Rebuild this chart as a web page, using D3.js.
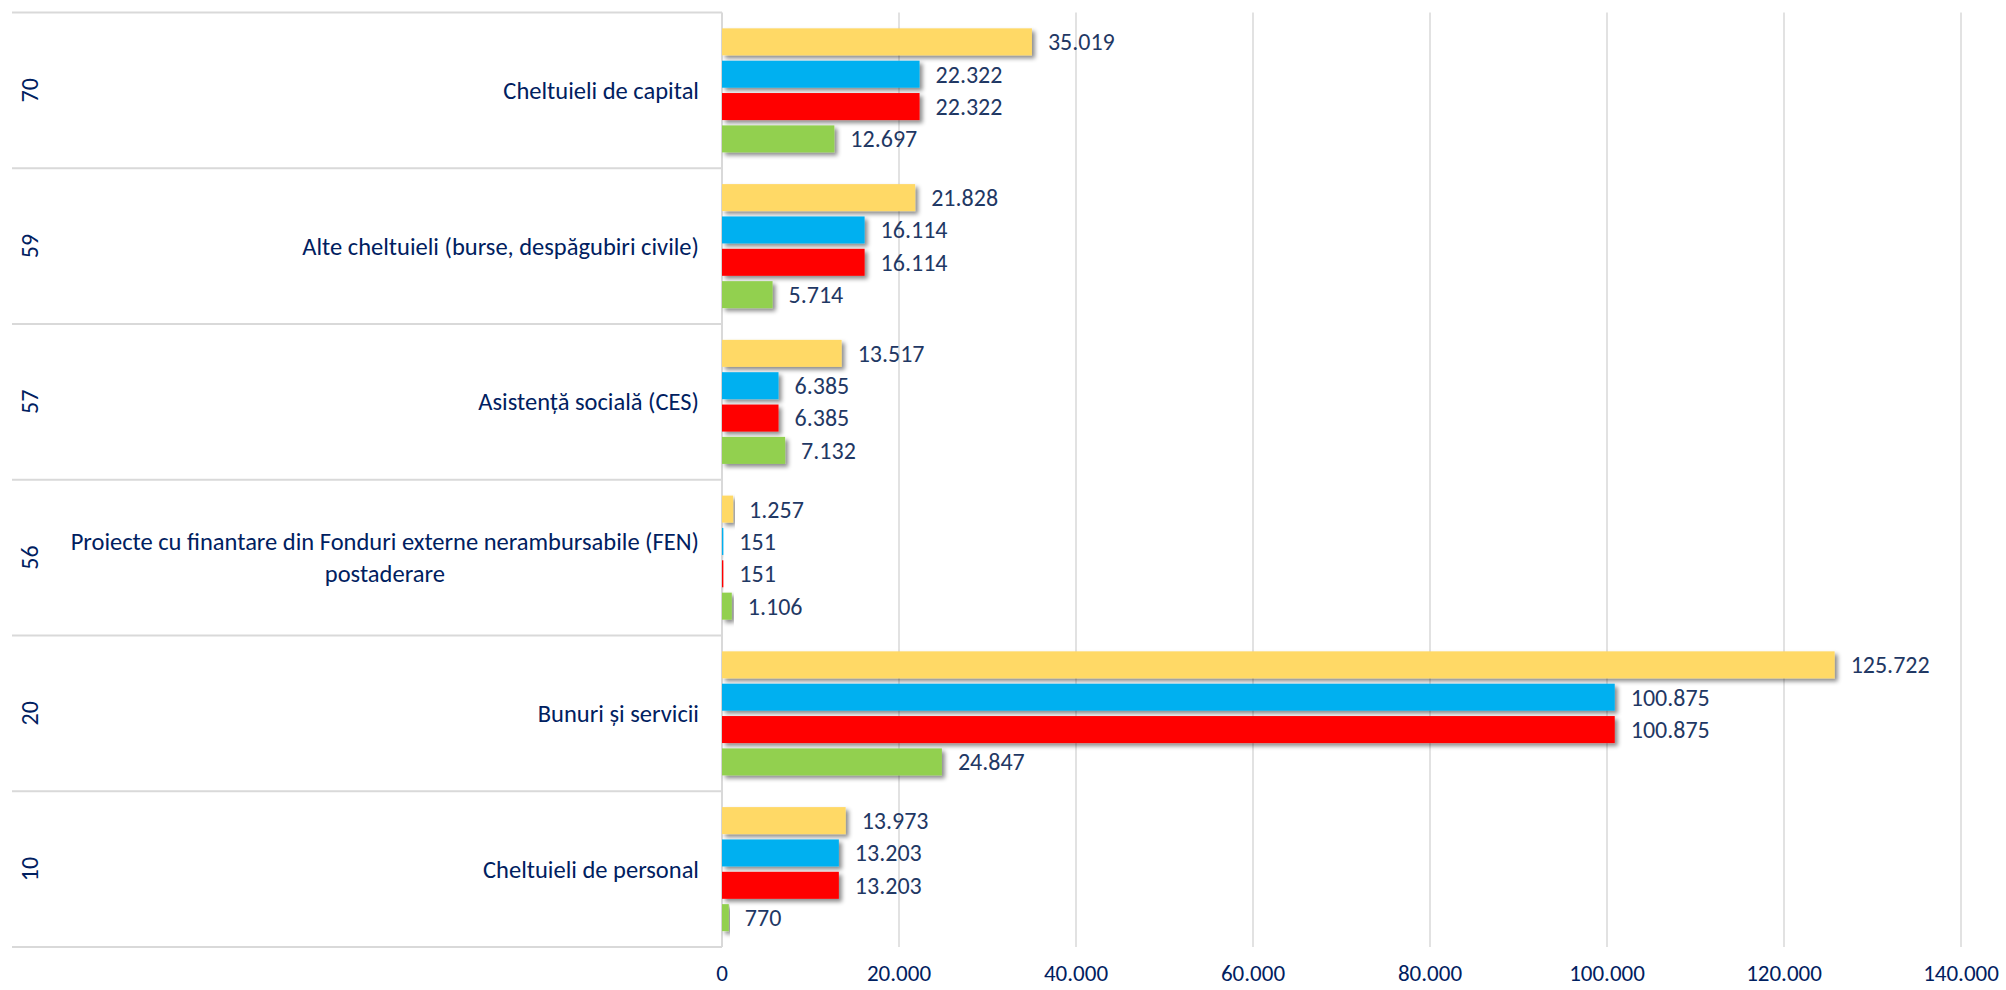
<!DOCTYPE html>
<html><head><meta charset="utf-8">
<script src="https://cdn.jsdelivr.net/npm/d3@7"></script>
<style>body{margin:0;background:#fff} svg{display:block}</style>
</head><body><svg id="chart" width="2006" height="990"></svg>
<script>
// ---- data ----
const codes = ["70", "59", "57", "56", "20", "10"];
const categories = [
  "Cheltuieli de capital",
  "Alte cheltuieli (burse, despăgubiri civile)",
  "Asistență socială (CES)",
  "Proiecte cu finantare din Fonduri externe nerambursabile (FEN)\npostaderare",
  "Bunuri și servicii",
  "Cheltuieli de personal"
];
const seriesNames = ["Seria 1", "Seria 2", "Seria 3", "Seria 4"];
const series1 = [35019, 21828, 13517, 1257, 125722, 13973];
const series2 = [22322, 16114, 6385, 151, 100875, 13203];
const series3 = [22322, 16114, 6385, 151, 100875, 13203];
const series4 = [12697, 5714, 7132, 1106, 24847, 770];
const seriesColors = ["#FFD966", "#00B0F0", "#FF0000", "#92D050"];
const xTicks = [0, 20000, 40000, 60000, 80000, 100000, 120000, 140000];

const allSeries = [series1, series2, series3, series4];
const FONT = "Carlito, Lato, 'Open Sans', sans-serif";

const svg = d3.select("#chart");
const locale = d3.formatLocale({decimal: ",", thousands: ".", grouping: [3], currency: ["", ""]});
const fmt = locale.format(",d");

const x = d3.scaleLinear().domain([0, 140000]).range([722, 1961]);
const y = d3.scaleBand().domain(codes).range([12.5, 947]).padding(0);
const yi = d3.scaleBand().domain(seriesNames).range([0, y.bandwidth()])
  .paddingInner(0.165).paddingOuter(0.49);

const defs = svg.append("defs");
const f = defs.append("filter").attr("id", "shadow")
  .attr("x", "-5%").attr("y", "-30%").attr("width", "120%").attr("height", "180%");
f.append("feDropShadow").attr("dx", 3).attr("dy", 3).attr("stdDeviation", 2)
  .attr("flood-color", "#000").attr("flood-opacity", 0.45);

// gridlines
svg.append("g").selectAll("line").data(xTicks.filter(d => d > 0)).join("line")
  .attr("x1", d => x(d)).attr("x2", d => x(d))
  .attr("y1", 12.5).attr("y2", 947)
  .attr("stroke", "#d9d9d9").attr("stroke-width", 1.5);

// category separators (left)
const bounds = codes.map(c => y(c)).concat([947]);
svg.append("g").selectAll("line").data(bounds).join("line")
  .attr("x1", 12).attr("x2", x(0))
  .attr("y1", d => d).attr("y2", d => d)
  .attr("stroke", "#d9d9d9").attr("stroke-width", 2);

// axis line
svg.append("line").attr("x1", x(0)).attr("x2", x(0)).attr("y1", 12.5).attr("y2", 947)
  .attr("stroke", "#d9d9d9").attr("stroke-width", 2);

// bars
const rows = [];
codes.forEach((c, ci) => {
  allSeries.forEach((s, si) => rows.push({code: c, name: seriesNames[si], v: s[ci], color: seriesColors[si]}));
});
const gBars = svg.append("g");
gBars.selectAll("rect").data(rows).join("rect")
  .attr("x", x(0))
  .attr("y", d => y(d.code) + yi(d.name))
  .attr("width", d => Math.max(0, x(d.v) - x(0)))
  .attr("height", yi.bandwidth())
  .attr("fill", d => d.color)
  .attr("filter", "url(#shadow)");

// data labels
svg.append("g").selectAll("text").data(rows).join("text")
  .attr("x", d => x(d.v) + 16)
  .attr("y", d => y(d.code) + yi(d.name) + yi.bandwidth() / 2)
  .attr("dy", "0.35em")
  .attr("font-family", FONT).attr("font-size", 24)
  .attr("fill", "#1F3864")
  .text(d => fmt(d.v));

// x tick labels
svg.append("g").selectAll("text").data(xTicks).join("text")
  .attr("x", d => x(d)).attr("y", 973).attr("dy", "0.35em")
  .attr("text-anchor", "middle")
  .attr("font-family", FONT).attr("font-size", 23)
  .attr("fill", "#002060")
  .text(d => fmt(d));

// outer category labels (codes)
svg.append("g").selectAll("text").data(codes).join("text")
  .attr("transform", d => `translate(29.5,${y(d) + y.bandwidth() / 2}) rotate(-90)`)
  .attr("dy", "0.35em").attr("text-anchor", "middle")
  .attr("font-family", FONT).attr("font-size", 24)
  .attr("fill", "#002060")
  .text(d => d);

// inner category labels
const gLab = svg.append("g");
categories.forEach((label, i) => {
  const lines = label.split("\n");
  const cy = y(codes[i]) + y.bandwidth() / 2;
  const lh = 31.7;
  const t = gLab.append("text")
    .attr("font-family", FONT).attr("font-size", 24.5)
    .attr("fill", "#002060");
  lines.forEach((ln, k) => {
    t.append("tspan").attr("x", 0)
      .attr("y", cy + (k - (lines.length - 1) / 2) * lh)
      .attr("dy", "0.35em").text(ln);
  });
  const spans = t.selectAll("tspan").nodes();
  const w = d3.max(spans, n => n.getComputedTextLength());
  const right = 699;
  if (lines.length === 1) {
    t.attr("text-anchor", "end").selectAll("tspan").attr("x", right);
  } else {
    t.attr("text-anchor", "middle").selectAll("tspan").attr("x", right - w / 2);
  }
});
</script>
</body></html>
